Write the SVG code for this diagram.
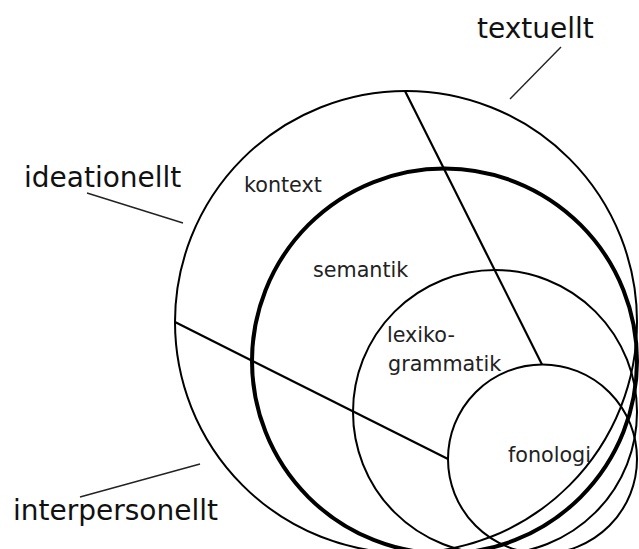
<svg xmlns="http://www.w3.org/2000/svg" width="639" height="549" viewBox="0 0 639 549">
<style>
.c{fill:none;stroke:#000;stroke-width:2}
.thick{stroke-width:4}
.div{stroke:#000;stroke-width:2.2;fill:none}
.lead{stroke:#222;stroke-width:1.4;fill:none}
.big{font-family:"DejaVu Sans",Verdana,sans-serif;font-size:28px;fill:#111}
.small{font-family:"DejaVu Sans",Verdana,sans-serif;font-size:20.7px;fill:#222}
</style>
<rect width="639" height="549" fill="#fff"/>
<g id="kontext">
<circle class="c" cx="406" cy="322" r="231"/>
<text class="small" x="244" y="192">kontext</text>
</g>
<g id="semantik">
<circle class="c thick" cx="444.5" cy="361" r="192.5"/>
<text class="small" x="313" y="277">semantik</text>
</g>
<g id="lexikogrammatik">
<circle class="c" cx="495" cy="412" r="142"/>
<text class="small" x="387" y="342">lexiko-</text>
<text class="small" x="388" y="371">grammatik</text>
</g>
<g id="fonologi">
<circle class="c" cx="542.5" cy="459" r="94.5"/>
<text class="small" x="508" y="462">fonologi</text>
</g>
<g id="connectors">
<line class="div" x1="405" y1="91" x2="542" y2="364.5"/>
<line class="div" x1="175" y1="322" x2="448" y2="459"/>
<line class="lead" x1="561" y1="47" x2="510" y2="99"/>
<line class="lead" x1="87" y1="193" x2="183" y2="223"/>
<line class="lead" x1="80" y1="497" x2="200" y2="464"/>
</g>
<g id="textuellt"><text class="big" x="477" y="38">textuellt</text></g>
<g id="ideationellt"><text class="big" x="24" y="187">ideationellt</text></g>
<g id="interpersonellt"><text class="big" x="13" y="520">interpersonellt</text></g>
</svg>
